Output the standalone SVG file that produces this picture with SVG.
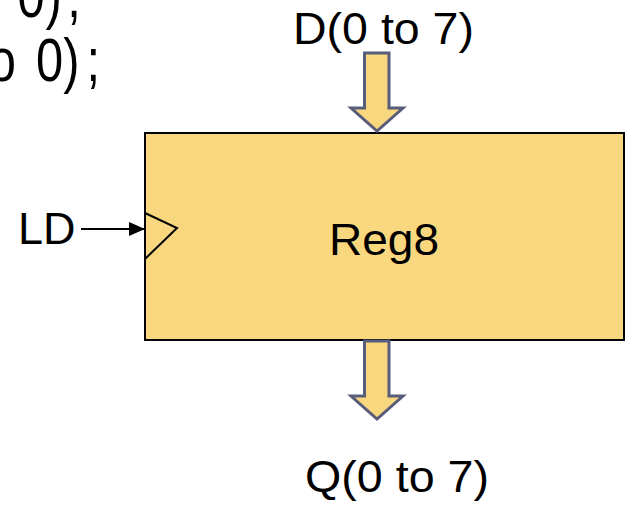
<svg xmlns="http://www.w3.org/2000/svg" width="625" height="505" viewBox="0 0 625 505">
<style>
.t{font-family:"Liberation Sans",Arial,sans-serif;fill:#000}
.bus{fill:#F9D77E;stroke:#575D7A;stroke-width:3;stroke-linejoin:miter}
</style>
<defs>
<marker id="ah" markerWidth="16" markerHeight="14" refX="16" refY="7" orient="auto" markerUnits="userSpaceOnUse" viewBox="0 0 16 14">
<path d="M0,0 L16,7 L0,14 z" fill="#000"/>
</marker>
</defs>
<rect width="625" height="505" fill="#fff"/>
<g id="code-fragment" class="t" font-size="61">
<g transform="scale(0.8,1)">
<text x="22 57 84" y="16.5">0);</text>
<text x="-31 -14 18 45 79 108" y="81">to 0);</text>
</g>
</g>
<g id="reg8">
<rect x="145" y="133" width="479" height="207" fill="#F9D77E" stroke="#000" stroke-width="2"/>
<polyline points="145,213 177,228 145,259" fill="none" stroke="#000" stroke-width="2"/>
<text class="t" x="329" y="255" font-size="45" textLength="110" lengthAdjust="spacingAndGlyphs">Reg8</text>
</g>
<g id="ld">
<text class="t" x="18" y="244" font-size="45">LD</text>
</g>
<g id="d">
<text class="t" x="293" y="44" font-size="45" textLength="181" lengthAdjust="spacingAndGlyphs">D(0 to 7)</text>
</g>
<g id="q">
<text class="t" x="305" y="492" font-size="45" textLength="184" lengthAdjust="spacingAndGlyphs">Q(0 to 7)</text>
</g>
<g id="connectors">
<line x1="81" y1="229" x2="145" y2="229" stroke="#000" stroke-width="2" marker-end="url(#ah)"/>
<polygon class="bus" points="364.5,53 389,53 389,108 403,108 377,131 351,108 364.5,108"/>
<polygon class="bus" points="364.5,341 389,341 389,396 403,396 377,419 351,396 364.5,396"/>
</g>
</svg>
